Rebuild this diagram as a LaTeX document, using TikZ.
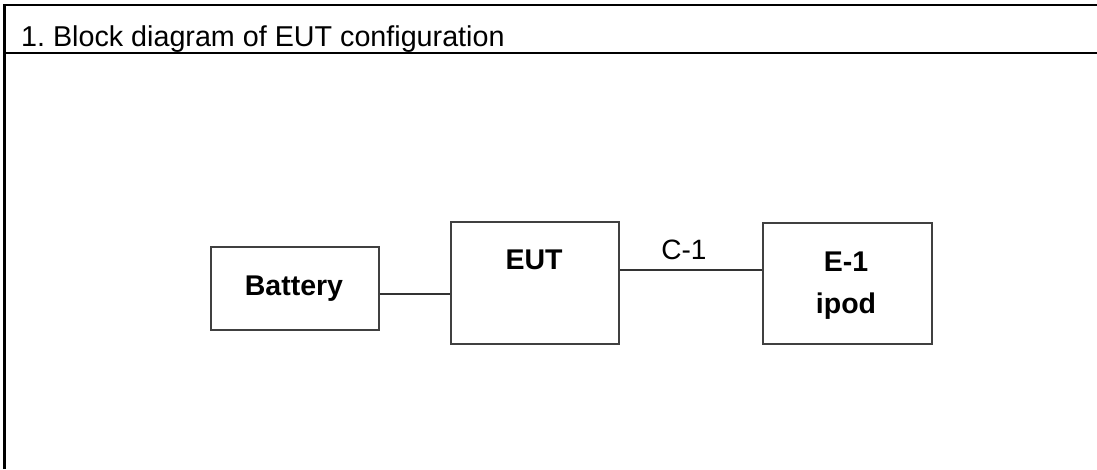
\documentclass[tikz,border=0pt]{standalone}
\usepackage{fontspec}
\setmainfont{Liberation Sans}
\frenchspacing
\begin{document}
\begin{tikzpicture}[x=1pt,y=-1pt,
  frame/.style={line width=2.5pt,black},
  box/.style={draw=black!75,line width=2pt,inner sep=0pt,anchor=north west},
  wire/.style={line width=2pt,black!80},
  lbl/.style={font=\fontsize{28.5}{34}\selectfont\bfseries,anchor=base,inner sep=0pt,text=black},
  plain/.style={font=\fontsize{28}{34}\selectfont,anchor=base,inner sep=0pt,text=black}]
\useasboundingbox (0,0) rectangle (1097,469);
\draw[frame] (4.5,469) -- (4.5,5) -- (1097,5);
\draw[frame] (4.5,53) -- (1097,53);
\node[plain,anchor=base west,font=\fontsize{28.7}{34}\selectfont] (title) at (21,46) {1. Block diagram of EUT configuration};
\node[box,minimum width=168pt,minimum height=83pt] (bat) at (210,246) {};
\node[box,minimum width=168pt,minimum height=122pt] (eut) at (450,221) {};
\node[box,minimum width=169pt,minimum height=121pt] (e1) at (762,222) {};
\node[lbl] (battxt) at (294,295) {Battery};
\node[lbl] (euttxt) at (534,269) {EUT};
\node[lbl] (e1txt) at (846,271) {E-1};
\node[lbl] (ipodtxt) at (846,313) {ipod};
\draw[wire] (bat.east |- 0,294) -- (eut.west |- 0,294);
\draw[wire] (eut.east |- 0,270) -- node[plain,pos=0.45,yshift=11pt] (c1) {C-1} (e1.west |- 0,270);
\end{tikzpicture}
\end{document}
